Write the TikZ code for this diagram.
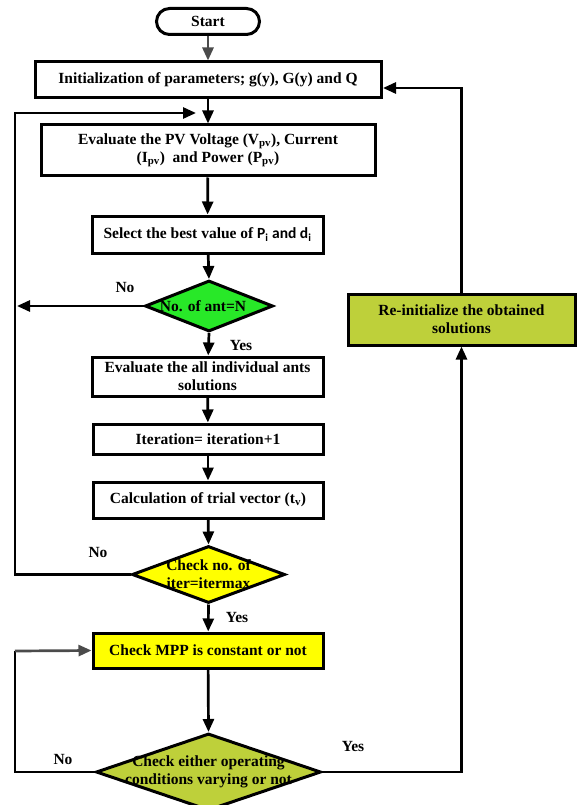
\documentclass[tikz,border=0pt]{standalone}
\usepackage{fontspec}
\setmainfont{Liberation Serif}
\newfontfamily\calibfont{Carlito}
\usetikzlibrary{arrows.meta,shapes.geometric}
\definecolor{antgreen}{RGB}{40,232,40}
\definecolor{reinitgreen}{RGB}{190,208,58}
\definecolor{flowyellow}{RGB}{255,255,0}
\definecolor{darkline}{RGB}{75,75,75}
\begin{document}
\begin{tikzpicture}[x=1pt,y=-1pt,
  every node/.style={font=\fontsize{15.5}{18}\selectfont\bfseries},
  box/.style={draw, line width=3pt, align=center, inner sep=0pt},
  dia/.style={draw, diamond, line width=3pt, inner sep=0pt},
  conn/.style={line width=2.7pt},
  arr/.style={conn, -{Triangle[length=13pt,width=11pt]}},
  grayarr/.style={arr, draw=darkline},
  lbl/.style={inner sep=0pt}
]
\useasboundingbox (0,0) rectangle (577,805);

% process boxes
\node[box, rounded corners=13pt, minimum width=103pt, minimum height=26pt] (start) at (208,21.5) {Start};
\node[box, minimum width=346pt, minimum height=36pt] (init) at (208,80) {Initialization of parameters; g(y), G(y) and Q};
\node[box, minimum width=334pt, minimum height=51pt] (eval) at (208,150.5)
  {Evaluate the PV Voltage (V\textsubscript{pv}), Current\\(I\textsubscript{pv})\ \ and Power (P\textsubscript{pv})};
\node[box, minimum width=231pt, minimum height=37pt] (select) at (207.5,234.5)
  {Select the best value of {\calibfont P\textsubscript{i} and d\textsubscript{i}}};
\node[dia, fill=antgreen, minimum width=128pt, minimum height=51pt] (d1) at (209,306) {};
\node[lbl] (d1t) at (203,306) {No. of ant=N};
\node[box, minimum width=231pt, minimum height=39pt] (ants) at (207.5,376.5)
  {Evaluate the all individual ants\\solutions};
\node[box, minimum width=230pt, minimum height=30pt] (iter) at (208,439) {Iteration= iteration+1};
\node[box, minimum width=230pt, minimum height=36pt] (calc) at (208,500) {Calculation of trial vector (t\textsubscript{v})};
\node[dia, fill=flowyellow, minimum width=153pt, minimum height=57pt] (d2) at (208.5,574.5) {};
\node[lbl, align=center] (d2t) at (208.5,574.5) {Check no. of\\iter=itermax};
\node[box, fill=flowyellow, minimum width=230pt, minimum height=35pt] (mpp) at (208,650.5) {Check MPP is constant or not};
\node[dia, fill=reinitgreen, minimum width=225pt, minimum height=77pt] (d3) at (208.5,772) {};
\node[lbl, align=center] (d3t) at (208.5,772) {Check either operating\\conditions varying or not};
\node[box, fill=reinitgreen, minimum width=227pt, minimum height=51pt] (reinit) at (461.5,319.5)
  {Re-initialize the obtained\\solutions};

% free ends of the loop connectors
\coordinate (loopTop) at (15,113);
\coordinate (loopTip) at (196,113);
\coordinate (noTip) at (17,306);
\coordinate (mppCorner) at (15,651);
\coordinate (initTip) at (383,88);

% main flow
\draw[grayarr] (start) -- (init);
\draw[arr] (init) -- (eval);
\draw[arr] (eval) -- (select);
\draw[arr] (select) -- (d1.north);
\draw[arr] (d1.south) -- (ants);
\draw[arr] (ants) -- (iter);
\draw[arr] (iter) -- (calc);
\draw[arr] (calc) -- (d2.north);
\draw[arr] (d2.south) -- (mpp);
\draw[arr] (mpp) -- (d3.north);

% branches and loops
\draw[arr] (d1.west) -- (noTip);
\draw[arr] (d2.west) -| (loopTop) -- (loopTip);
\draw[conn] (d3.west) -| (mppCorner);
\draw[grayarr] (mppCorner) -- (mpp.west);
\draw[arr] (d3.east) -| (reinit.south);
\draw[arr] (reinit.north) |- (initTip);

% branch labels
\node[lbl] (no1) at (125,287) {No};
\node[lbl] (yes1) at (241,345) {Yes};
\node[lbl] (no2) at (98,552) {No};
\node[lbl] (yes2) at (237,617) {Yes};
\node[lbl] (no3) at (63,759) {No};
\node[lbl] (yes3) at (353,746) {Yes};
\end{tikzpicture}
\end{document}
